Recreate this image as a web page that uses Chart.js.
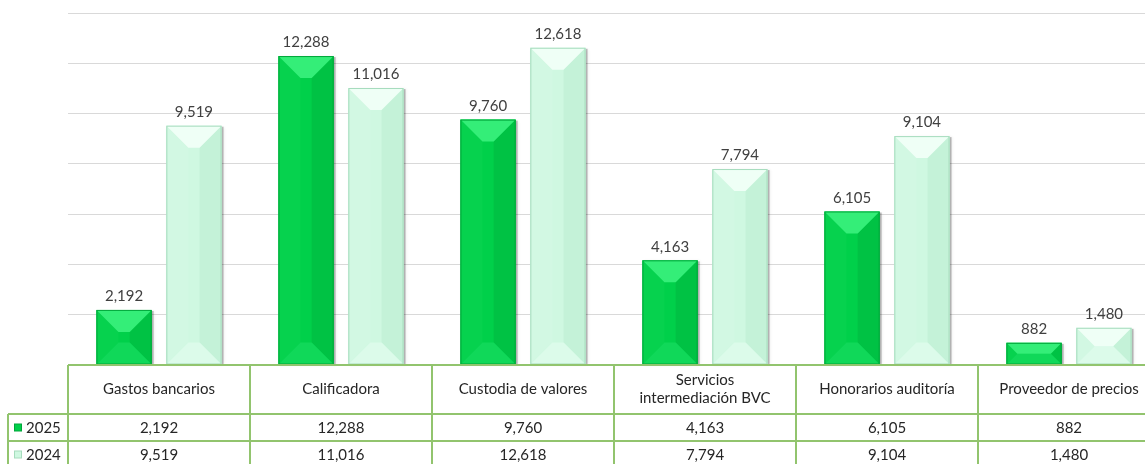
<html>
<head>
<script type="text/javascript" src="https://cdn.jsdelivr.net/npm/chart.js@4/dist/chart.umd.min.js"></script>
<style>
  body { margin: 0; overflow: hidden; background: #fff; }
  #wrap { width: 1160px; height: 464px; position: relative; }
</style>
</head>
<body>
<div id="wrap"><canvas id="myChart"></canvas></div>
<script type="text/javascript">
// data
var categories = [["Gastos bancarios"], ["Calificadora"], ["Custodia de valores"],
                  ["Servicios", "intermediación BVC"], ["Honorarios auditoría"], ["Proveedor de precios"]];
var seriesNames = ["2025", "2024"];
var values2025 = [2192, 12288, 9760, 4163, 6105, 882];
var values2024 = [9519, 11016, 12618, 7794, 9104, 1480];
var yMax = 14000;
var yStep = 2000;

var FONT = "Lato, 'Open Sans', sans-serif";
var TEXT = "#404040";
var LINE = "#92c46e";

var shade2025 = { body: "#00d04a", top: "#34ee78", left: "#06d24e", right: "#00c244", bottom: "#10d859", edge: "#00a63a" };
var shade2024 = { body: "#cff8e1", top: "#effff6", left: "#d2f8e3", right: "#c4f2d8", bottom: "#dcfbea", edge: "#a6dcbd" };

function fmt(v) { return v.toLocaleString("en-US"); }

function poly(ctx, pts, color) {
  ctx.beginPath();
  ctx.moveTo(pts[0][0], pts[0][1]);
  for (var k = 1; k < pts.length; k++) ctx.lineTo(pts[k][0], pts[k][1]);
  ctx.closePath();
  ctx.fillStyle = color;
  ctx.fill();
}

function barBox(bar) {
  var p = bar.getProps(["x", "y", "base", "width"], true);
  return { l: p.x - p.width / 2, r: p.x + p.width / 2, t: p.y, b: p.base, x: p.x };
}

// soft shadow behind the bars
var shadowPlugin = {
  id: "barShadow",
  beforeDatasetsDraw: function (chart) {
    var ctx = chart.ctx;
    ctx.save();
    chart.data.datasets.forEach(function (ds, di) {
      chart.getDatasetMeta(di).data.forEach(function (bar) {
        var q = barBox(bar);
        ctx.fillStyle = "rgba(0,0,0,0.25)";
        ctx.shadowColor = "rgba(0,0,0,0.35)";
        ctx.shadowBlur = 3;
        ctx.fillRect(q.l + 2, q.t + 1, q.r - q.l, q.b - q.t - 1);
      });
    });
    ctx.restore();
  }
};

// bevel look + value labels
var bevelPlugin = {
  id: "bevel",
  afterDatasetsDraw: function (chart) {
    var ctx = chart.ctx;
    ctx.save();
    chart.data.datasets.forEach(function (ds, di) {
      var c = ds.shade;
      chart.getDatasetMeta(di).data.forEach(function (bar, i) {
        var q = barBox(bar);
        var l = q.l, r = q.r, t = q.t, b = q.b;
        var s = Math.min(22, (r - l) / 2, (b - t) / 2);
        poly(ctx, [[l, t], [l + s, t + s], [l + s, b - s], [l, b]], c.left);
        poly(ctx, [[r, t], [r, b], [r - s, b - s], [r - s, t + s]], c.right);
        poly(ctx, [[l, b], [r, b], [r - s, b - s], [l + s, b - s]], c.bottom);
        poly(ctx, [[l, t], [r, t], [r - s, t + s], [l + s, t + s]], c.top);
        ctx.strokeStyle = c.edge;
        ctx.lineWidth = 1;
        ctx.strokeRect(l + 0.5, t + 0.5, r - l - 1, b - t - 1);

        ctx.fillStyle = TEXT;
        ctx.font = "15px " + FONT;
        ctx.textAlign = "center";
        ctx.textBaseline = "bottom";
        ctx.fillText(fmt(ds.data[i]), q.x, t - 6);
      });
    });
    ctx.restore();
  }
};

// data table under the plot
var tablePlugin = {
  id: "dataTable",
  afterDraw: function (chart) {
    var ctx = chart.ctx;
    var xs = chart.scales.x;
    var area = chart.chartArea;
    var n = categories.length;
    var cw = (xs.right - xs.left) / n;
    var top = area.bottom, row1 = top + 49, row2 = row1 + 27, bottom = row2 + 27;
    var legL = 8;

    ctx.save();
    ctx.strokeStyle = LINE;
    ctx.lineWidth = 2;
    ctx.beginPath();
    ctx.moveTo(xs.left, top); ctx.lineTo(xs.right, top);
    ctx.moveTo(legL, row1); ctx.lineTo(xs.right, row1);
    ctx.moveTo(legL, row2); ctx.lineTo(xs.right, row2);
    ctx.moveTo(legL, row1); ctx.lineTo(legL, bottom);
    for (var i = 0; i <= n; i++) {
      var bx = xs.left + i * cw;
      ctx.moveTo(bx, top); ctx.lineTo(bx, bottom);
    }
    ctx.stroke();

    ctx.fillStyle = "#262626";
    ctx.font = "15px " + FONT;
    ctx.textAlign = "center";
    ctx.textBaseline = "middle";
    var rows = [values2025, values2024];
    for (var j = 0; j < n; j++) {
      var cx = xs.getPixelForValue(j);
      var lines = categories[j];
      var mid = (top + row1) / 2;
      for (var k = 0; k < lines.length; k++) {
        ctx.fillText(lines[k], cx, mid + (k - (lines.length - 1) / 2) * 18);
      }
      ctx.fillText(fmt(rows[0][j]), cx, (row1 + row2) / 2 + 1);
      ctx.fillText(fmt(rows[1][j]), cx, (row2 + bottom) / 2 + 1);
    }

    // legend keys in the left column
    var keyCols = [shade2025, shade2024];
    var rowMid = [(row1 + row2) / 2, (row2 + bottom) / 2];
    ctx.textAlign = "left";
    ctx.font = "15px " + FONT;
    for (var m = 0; m < seriesNames.length; m++) {
      var ky = rowMid[m];
      ctx.fillStyle = keyCols[m].edge;
      ctx.fillRect(14, ky - 4, 8, 8);
      ctx.fillStyle = keyCols[m].body;
      ctx.fillRect(15, ky - 3, 6, 6);
      ctx.fillStyle = "#262626";
      ctx.fillText(seriesNames[m], 26, ky + 1);
    }
    ctx.restore();
  }
};

var canvas = document.getElementById("myChart");
var myChart = new Chart(canvas.getContext("2d"), {
  type: "bar",
  data: {
    labels: categories,
    datasets: [
      { label: seriesNames[0], data: values2025, backgroundColor: shade2025.body, shade: shade2025,
        categoryPercentage: 0.768, barPercentage: 0.79, borderWidth: 0 },
      { label: seriesNames[1], data: values2024, backgroundColor: shade2024.body, shade: shade2024,
        categoryPercentage: 0.768, barPercentage: 0.79, borderWidth: 0 }
    ]
  },
  options: {
    responsive: true,
    maintainAspectRatio: false,
    animation: false,
    layout: { padding: { left: 68, right: 0, top: 13, bottom: 99 } },
    plugins: { legend: { display: false }, tooltip: { enabled: false } },
    scales: {
      x: { display: false },
      y: {
        min: 0, max: yMax,
        ticks: { display: false, stepSize: yStep },
        grid: { color: "#d9d9d9", lineWidth: 1, drawTicks: false },
        border: { display: false }
      }
    }
  },
  plugins: [shadowPlugin, bevelPlugin, tablePlugin]
});
</script>
</body>
</html>
